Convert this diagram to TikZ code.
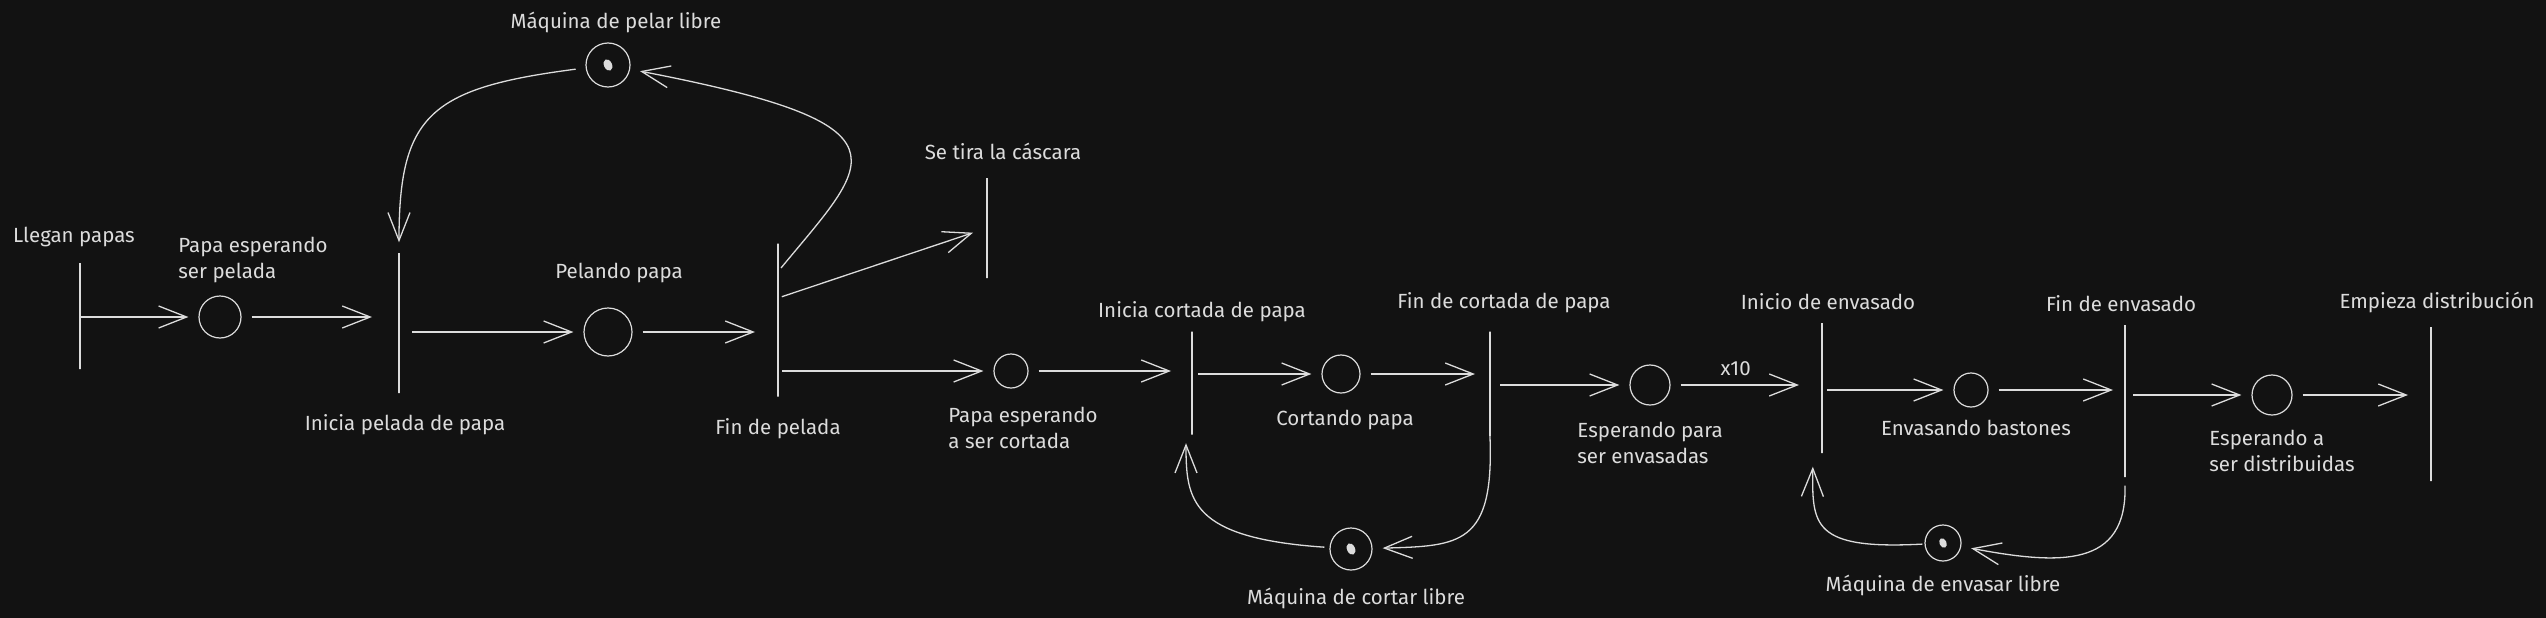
\documentclass[tikz,border=0pt]{standalone}
\usepackage{fontspec}
\setmainfont{Fira Sans}
\usetikzlibrary{arrows.meta,positioning,calc,shapes.geometric}
\definecolor{bg}{HTML}{121212}
\definecolor{fg}{HTML}{DCDCDC}

\begin{document}
\begin{tikzpicture}[
    x=1pt, y=-1pt,
    place/.style={circle, draw=fg, line width=1.2pt, minimum size=40pt, inner sep=0pt},
    bar/.style={draw=fg, line width=1.4pt, minimum width=0pt, inner sep=0pt, minimum height=#1},
    tok/.style={ellipse, fill=fg, minimum width=8pt, minimum height=12pt, inner sep=0pt, rotate=25},
    lbl/.style={text=fg, font=\fontsize{20.5}{26}\selectfont, inner sep=0pt, align=left},
    flow/.style={-{Straight Barb[length=28pt,width=22pt]}, draw=fg, line width=1.3pt, shorten <=10pt, shorten >=10pt}
]
\fill[bg] (0,0) rectangle (2546,618);
\useasboundingbox (0,0) rectangle (2546,618);

% places and transitions
\node[bar=106pt] (t1) at (80,316) {};
\node[place, minimum size=42pt] (p1) at (220,317) {};
\node[bar=140pt] (t2) at (399,323) {};
\node[place, minimum size=48pt] (p2) at (608,332) {};
\node[bar=153pt] (t3) at (778,320) {};
\node[bar=100pt] (t4) at (987,228) {};
\node[place, minimum size=44pt] (pm) at (608,65) {};
\node[tok] (pmtok) at (pm) {};
\node[place, minimum size=34pt] (p3) at (1011,371) {};
\node[bar=103pt] (t5) at (1192,383) {};
\node[place, minimum size=38pt] (p4) at (1341,374) {};
\node[bar=105pt] (t6) at (1490,384) {};
\node[place, minimum size=42pt] (pc) at (1351,549) {};
\node[tok] (pctok) at (pc) {};
\node[place, minimum size=40pt] (p5) at (1650,385) {};
\node[bar=130pt] (t7) at (1822,388) {};
\node[place, minimum size=34pt] (p6) at (1971,390) {};
\node[bar=152pt] (t8) at (2125,401) {};
\node[place, minimum size=36pt] (pe) at (1943,543) {};
\node[tok, minimum width=7pt, minimum height=10pt] (petok) at (pe) {};
\node[place, minimum size=40pt] (p7) at (2272,395) {};
\node[bar=154pt] (t9) at (2431,404) {};

% labels
\node[lbl, above=15pt of t1, xshift=-6pt] (t1lbl) {Llegan papas};
\node[lbl, above=12pt of p1, xshift=33pt] (p1lbl) {Papa esperando\\ser pelada};
\node[lbl, below=21pt of t2, xshift=6pt] (t2lbl) {Inicia pelada de papa};
\node[lbl, above=24pt of p2, xshift=11pt] (p2lbl) {Pelando papa};
\node[lbl, below=21pt of t3] (t3lbl) {Fin de pelada};
\node[lbl, above=9pt of pm, xshift=8pt] (pmlbl) {Máquina de pelar libre};
\node[lbl, above=17pt of t4, xshift=16pt] (t4lbl) {Se tira la cáscara};
\node[lbl, below=18pt of p3, xshift=12pt] (p3lbl) {Papa esperando\\a ser cortada};
\node[lbl, above=9pt of t5, xshift=10pt] (t5lbl) {Inicia cortada de papa};
\node[lbl, below=16pt of p4, xshift=4pt] (p4lbl) {Cortando papa};
\node[lbl, above=18pt of t6, xshift=14pt] (t6lbl) {Fin de cortada de papa};
\node[lbl, below=17pt of pc, xshift=5pt] (pclbl) {Máquina de cortar libre};
\node[lbl, below=16pt of p5] (p5lbl) {Esperando para\\ser envasadas};
\node[lbl, above=12pt of t7, xshift=6pt] (t7lbl) {Inicio de envasado};
\node[lbl, below=12pt of p6, xshift=5pt] (p6lbl) {Envasando bastones};
\node[lbl, above=12pt of t8, xshift=-4pt] (t8lbl) {Fin de envasado};
\node[lbl, below=13pt of pe] (pelbl) {Máquina de envasar libre};
\node[lbl, below=14pt of p7, xshift=10pt] (p7lbl) {Esperando a\\ser distribuidas};
\node[lbl, above=13pt of t9, xshift=6pt] (t9lbl) {Empieza distribución};

% peeling
\draw[flow, shorten <=0pt] (t1 |- p1) -- (p1);
\draw[flow, shorten >=27pt] (p1) -- (p1 -| t2);
\draw[flow, shorten <=13pt] (t2 |- p2) -- (p2);
\draw[flow, shorten >=23pt] (p2) -- (p2 -| t3);
\draw[flow, shorten <=4pt] (t3 |- p3) -- (p3);
\draw[flow, shorten <=4pt, shorten >=14pt] ($(t3)+(0,-22)$) -- (t4);
\draw[flow, shorten <=0pt] ($(t3)+(3,-52)$) .. controls (870,160) and (920,125) .. (pm);
\draw[flow] (pm) .. controls (430,88) and (399,115) .. (t2.north);

% cutting
\draw[flow, shorten >=21pt] (p3) -- (p3 -| t5);
\draw[flow, shorten <=6pt] (t5 |- p4) -- (p4);
\draw[flow, shorten >=15pt] (p4) -- (p4 -| t6);
\draw[flow, shorten <=0pt] (t6.south) .. controls (1494,545) and (1460,546) .. (pc);
\draw[flow, shorten <=5pt, shorten >=8pt] (pc) .. controls (1190,538) and (1186,500) .. ([xshift=-6pt]t5.south);
\draw[flow] (t6 |- p5) -- (p5);

% packing
\draw[flow, shorten >=23pt] (p5) -- node[lbl, above=9pt, pos=0.43] (x10) {x10} (p5 -| t7);
\draw[flow, shorten <=5pt] (t7 |- p6) -- (p6);
\draw[flow, shorten >=12pt] (p6) -- (p6 -| t8);
\draw[flow, shorten <=0pt] ([yshift=-8pt]t8.south) .. controls (2127,568) and (2060,565) .. (pe);
\draw[flow, shorten <=2pt, shorten >=13pt] (pe) .. controls (1812,550) and (1812,525) .. ([xshift=-9pt]t7.south);
\draw[flow, shorten <=8pt] (t8 |- p7) -- (p7);
\draw[flow, shorten >=23pt] (p7) -- (p7 -| t9);
\end{tikzpicture}
\end{document}
